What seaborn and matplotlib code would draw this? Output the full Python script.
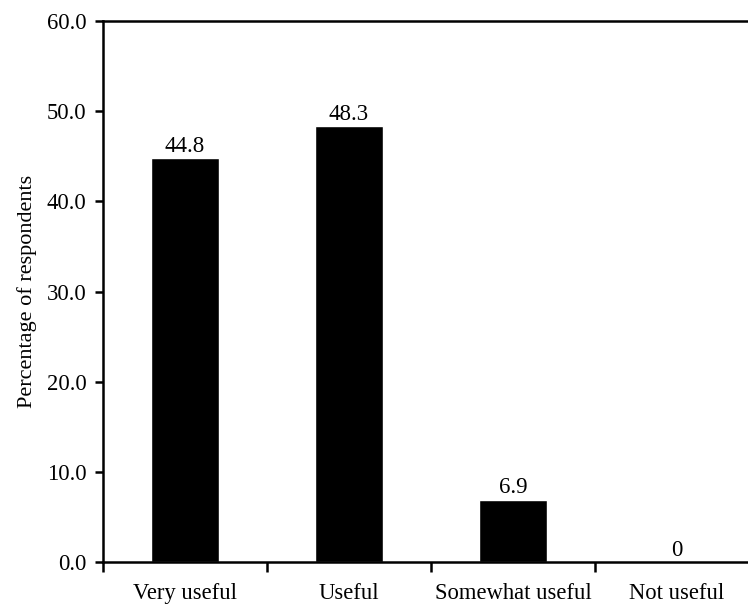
import matplotlib
matplotlib.use("Agg")
import matplotlib.pyplot as plt
import seaborn as sns
import pandas as pd
from matplotlib.ticker import FormatStrFormatter, FixedLocator

# chart data
CATEGORIES = ["Very useful", "Useful", "Somewhat useful", "Not useful"]
PERCENTAGES = [44.8, 48.3, 6.9, 0.0]
BAR_LABELS = ["44.8", "48.3", "6.9", "0"]

sns.set_style("white")
plt.rcParams['font.family'] = ['Liberation Serif', 'DejaVu Serif']
plt.rcParams['text.color'] = 'black'
plt.rcParams['axes.labelcolor'] = 'black'
plt.rcParams['xtick.color'] = 'black'
plt.rcParams['ytick.color'] = 'black'

df = pd.DataFrame({"category": CATEGORIES, "pct": PERCENTAGES})

fig = plt.figure(figsize=(7.48, 6.06), dpi=100)
# axes run past the right edge of the figure, like the original crop
ax = fig.add_axes([103 / 748, 44 / 606, 656 / 748, 541 / 606])

sns.barplot(data=df, x="category", y="pct", color="black", width=0.41,
            saturation=1, ax=ax)

for bar, txt in zip(ax.patches, BAR_LABELS):
    ax.annotate(txt, (bar.get_x() + bar.get_width() / 2, bar.get_height()),
                xytext=(0, 1), textcoords="offset points", color="black",
                ha="center", va="bottom", fontsize=16.5)

ax.set_ylim(0, 60)
ax.set_xlim(-0.5, 3.5)
ax.set_yticks([0, 10, 20, 30, 40, 50, 60])
ax.yaxis.set_major_formatter(FormatStrFormatter("%.1f"))
ax.xaxis.set_minor_locator(FixedLocator([-0.5, 0.5, 1.5, 2.5, 3.5]))

ax.tick_params(axis="y", which="major", direction="out", length=6, width=1.8,
               labelsize=16.3, pad=6, left=True)
ax.tick_params(axis="x", which="major", length=0, labelsize=16.3, pad=15)
ax.tick_params(axis="x", which="minor", direction="out", length=7, width=1.8,
               bottom=True)

for side in ["left", "bottom", "top", "right"]:
    ax.spines[side].set_color("black")
    ax.spines[side].set_linewidth(1.8)

ax.set_xlabel("")
ax.set_ylabel("Percentage of respondents", fontsize=16, labelpad=7)
ax.grid(False)

fig.savefig("out.png", dpi=100, facecolor="white")
plt.close(fig)
